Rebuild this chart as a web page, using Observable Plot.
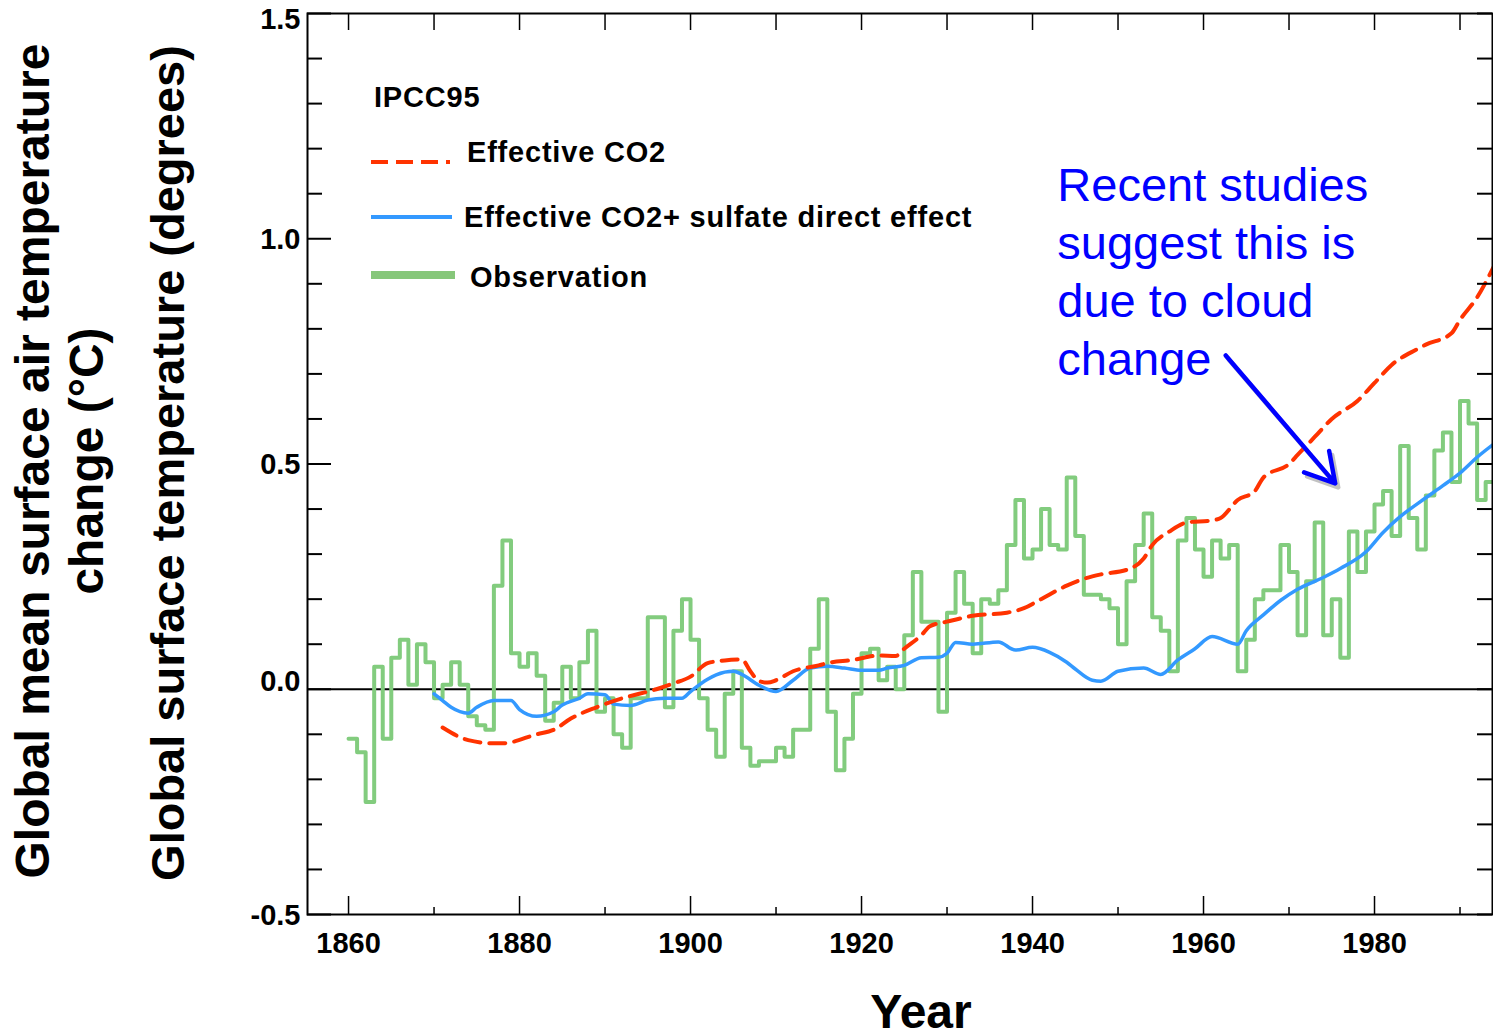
<!DOCTYPE html>
<html><head><meta charset="utf-8">
<script src="https://cdn.jsdelivr.net/npm/d3@7"></script>
<script src="https://cdn.jsdelivr.net/npm/@observablehq/plot@0.6"></script>
<style>
html,body{margin:0;padding:0;background:#fff;overflow:hidden;}
#chart{position:relative;width:1493px;height:1036px;}
</style></head><body><div id="chart"></div>
<script>
// ---------- data ----------
const obsStartYear = 1860;
const obsValues = [
 -0.11,-0.14,-0.25,0.05,-0.11,0.07,0.11,0.01,0.10,0.06,
 -0.02,0.01,0.06,0.01,-0.06,-0.08,-0.09,0.23,0.33,0.08,
 0.05,0.08,0.03,-0.07,-0.03,0.05,-0.02,0.06,0.13,-0.05,
 -0.02,-0.10,-0.13,-0.02,-0.02,0.16,0.16,-0.04,0.13,0.20,
 0.11,-0.02,-0.09,-0.15,-0.01,0.04,-0.13,-0.17,-0.16,-0.16,
 -0.13,-0.15,-0.09,-0.09,0.09,0.20,-0.05,-0.18,-0.11,-0.01,
 0.08,0.09,0.02,0.05,0.00,0.12,0.26,0.15,0.15,-0.05,
 0.17,0.26,0.19,0.08,0.20,0.19,0.22,0.32,0.42,0.29,
 0.31,0.40,0.32,0.31,0.47,0.34,0.21,0.21,0.20,0.18,
 0.10,0.24,0.32,0.39,0.16,0.13,0.04,0.33,0.38,0.31,
 0.25,0.33,0.29,0.32,0.04,0.11,0.20,0.22,0.22,0.32,
 0.26,0.12,0.24,0.37,0.12,0.20,0.07,0.35,0.26,0.35,
 0.41,0.44,0.34,0.54,0.38,0.31,0.43,0.53,0.57,0.46,
 0.64,0.59,0.42,0.46,0.51
];
const co2Years  = [1871,1874,1877,1878,1882,1884,1886,1889,1892,1894,1896,1898,1900,1902,1904,1906,1907,1908,1909,1910,1912,1915,1916,1919,1922,1924,1925,1927,1928,1930,1933,1937,1939,1941,1944,1946,1948,1951,1953,1954,1956,1958,1961,1962,1964,1966,1967,1970,1971,1973,1975,1978,1980,1982,1985,1986,1989,1990,1992,1994];
const co2Values = [-0.085,-0.113,-0.12,-0.12,-0.10,-0.09,-0.065,-0.04,-0.02,-0.01,0.00,0.013,0.028,0.058,0.064,0.066,0.04,0.018,0.015,0.02,0.04,0.053,0.058,0.065,0.075,0.074,0.09,0.12,0.14,0.15,0.163,0.17,0.18,0.20,0.23,0.245,0.255,0.265,0.29,0.32,0.35,0.37,0.375,0.38,0.42,0.44,0.47,0.50,0.52,0.56,0.60,0.64,0.68,0.72,0.755,0.765,0.79,0.82,0.87,0.94];
const sulYears  = [1870,1871,1872,1874,1875,1877,1879,1880,1882,1884,1885,1887,1888,1890,1891,1893,1895,1897,1899,1900,1902,1903,1905,1906,1908,1910,1912,1914,1916,1918,1920,1922,1923,1925,1927,1929,1930,1931,1933,1936,1938,1940,1942,1944,1945,1947,1948,1950,1953,1955,1957,1959,1961,1964,1965,1967,1969,1971,1974,1976,1979,1981,1983,1986,1988,1990,1992,1994];
const sulValues = [-0.01,-0.025,-0.04,-0.053,-0.04,-0.025,-0.025,-0.045,-0.06,-0.05,-0.035,-0.02,-0.01,-0.012,-0.033,-0.036,-0.024,-0.02,-0.02,-0.005,0.022,0.032,0.04,0.033,0.009,-0.005,0.02,0.047,0.051,0.047,0.042,0.042,0.047,0.053,0.07,0.071,0.08,0.104,0.10,0.105,0.087,0.093,0.082,0.06,0.045,0.02,0.018,0.04,0.047,0.033,0.065,0.09,0.117,0.10,0.13,0.165,0.197,0.222,0.248,0.268,0.305,0.348,0.383,0.425,0.452,0.48,0.515,0.545];

const xTickLabels = [1860,1880,1900,1920,1940,1960,1980];
const xTickMinor  = [1870,1890,1910,1930,1950,1970,1990];
const xTickTop    = [1860,1870,1880,1890,1900,1910,1920,1930,1940,1950,1960,1970,1980,1990];
const yTickLabels = [-0.5,0.0,0.5,1.0,1.5];
const yTickAll    = d3.range(-5,16).map(i => i/10);

const legendTitle = "IPCC95";
const seriesNames = ["Effective CO2","Effective CO2+ sulfate direct effect","Observation"];
const yTitle1 = "Global mean surface air temperature";
const yTitle2 = "change (°C)";
const yTitle3 = "Global surface temperature (degrees)";
const xTitle = "Year";
const noteText = "Recent studies\nsuggest this is\ndue to cloud\nchange";
const note = [{x: 1942.9, y: 1.176}];
const noteArrow = [{x1: 1962.6, y1: 0.741, x2: 1975.4, y2: 0.457}];

// ---------- tables ----------
const obs = obsValues.map((v,i)=>({year: obsStartYear+i, value: v}));
obs.push({year: obsStartYear+obsValues.length, value: obsValues[obsValues.length-1]});
const co2 = co2Years.map((y,i)=>({year:y, value:co2Values[i]}));
const sul = sulYears.map((y,i)=>({year:y, value:sulValues[i]}));

const W = 1493, H = 1036, ML = 307, MR = 1, MT = 13, MB = 122;
const XD = [1855.2, 1993.8], YD = [-0.5, 1.5];
const pxYear = (W-ML-MR)/(XD[1]-XD[0]);
const pxUnit = (H-MT-MB)/(YD[1]-YD[0]);
const FONT = "'Liberation Sans', Arial, Helvetica, sans-serif";
const minorY = yTickAll.filter(v => !yTickLabels.some(t => Math.abs(t-v)<1e-9));
const yLabTop = yTickLabels.filter(v => v === 1.5);
const yLabZero = yTickLabels.filter(v => v === 0);
const yLabRest = yTickLabels.filter(v => v !== 1.5 && v !== 0);
const yAxisOpts = {anchor: "left", tickSize: 0, tickPadding: 7, fontSize: 29, fontWeight: "bold",
  tickFormat: d => d.toFixed(1), fill: "black", style: "letter-spacing:0.5px"};

const plot = Plot.plot({
  width: W, height: H,
  marginLeft: ML, marginRight: MR, marginTop: MT, marginBottom: MB,
  x: {domain: XD, axis: null},
  y: {domain: YD, axis: null},
  style: {fontFamily: FONT, background: "white", overflow: "visible"},
  marks: [
    Plot.ruleY([0], {stroke: "black", strokeWidth: 2}),
    Plot.line(obs, {x: "year", y: "value", curve: "step-after", stroke: "#82cc7e", strokeWidth: 4, clip: true}),
    Plot.line(sul, {x: "year", y: "value", curve: "monotone-x", stroke: "#3399ff", strokeWidth: 3.5, clip: true}),
    Plot.line(co2, {x: "year", y: "value", curve: "monotone-x", stroke: "#ff3300", strokeWidth: 4, strokeDasharray: "16,9", clip: true}),
    // ticks (inward)
    Plot.ruleX(xTickLabels, {x: d=>d, y1: YD[0], y2: YD[0] + 18/pxUnit, stroke: "black", strokeWidth: 1.5}),
    Plot.ruleX(xTickMinor, {x: d=>d, y1: YD[0], y2: YD[0] + 7/pxUnit, stroke: "black", strokeWidth: 1.5}),
    Plot.ruleX(xTickTop, {x: d=>d, y1: YD[1], y2: YD[1] - 17/pxUnit, stroke: "black", strokeWidth: 1.5}),
    Plot.ruleY(yTickLabels, {y: d=>d, x1: XD[0], x2: XD[0] + 24/pxYear, stroke: "black", strokeWidth: 2}),
    Plot.ruleY(minorY, {y: d=>d, x1: XD[0], x2: XD[0] + 15/pxYear, stroke: "black", strokeWidth: 2}),
    Plot.ruleY(yTickAll, {y: d=>d, x1: XD[1] - 15/pxYear, x2: XD[1], stroke: "black", strokeWidth: 2}),
    Plot.frame({stroke: "black", strokeWidth: 2}),
    Plot.axisX(xTickLabels, {anchor: "bottom", tickSize: 0, tickPadding: 18, fontSize: 29, fontWeight: "bold",
      tickFormat: d => String(d), fill: "black", style: "letter-spacing:1px"}),
    Plot.axisY(yLabTop, {...yAxisOpts, dy: 6}),
    Plot.axisY(yLabZero, {...yAxisOpts, dy: -8}),
    Plot.axisY(yLabRest, {...yAxisOpts, dy: 1}),
    Plot.text([yTitle1], {frameAnchor: "left", dx: -274, dy: -3, rotate: -90, textAnchor: "middle", lineAnchor: "middle", fontSize: 48, fontWeight: "bold", fill: "black", text: d=>d}),
    Plot.text([yTitle2], {frameAnchor: "left", dx: -220, dy: -3, rotate: -90, textAnchor: "middle", lineAnchor: "middle", fontSize: 48, fontWeight: "bold", fill: "black", text: d=>d}),
    Plot.text([yTitle3], {frameAnchor: "left", dx: -139, dy: -1, rotate: -90, textAnchor: "middle", lineAnchor: "middle", fontSize: 47, fontWeight: "bold", fill: "black", text: d=>d}),
    Plot.text([xTitle], {frameAnchor: "bottom", dx: 21, dy: 98, textAnchor: "middle", lineAnchor: "middle", fontSize: 48, fontWeight: "bold", fill: "black", text: d=>d}),
    Plot.text(note, {x: "x", y: "y", text: () => noteText, textAnchor: "start", lineAnchor: "top", lineHeight: 1.234, fontSize: 47, fill: "#0000ff"}),
    Plot.arrow(noteArrow, {x1: "x1", y1: "y1", x2: "x2", y2: "y2", stroke: "#9a9a9a", strokeOpacity: 0.6, strokeWidth: 4.5, headLength: 11, headAngle: 60, dx: 3, dy: 4}),
    Plot.arrow(noteArrow, {x1: "x1", y1: "y1", x2: "x2", y2: "y2", stroke: "#0000ff", strokeWidth: 4.5, headLength: 11, headAngle: 60})
  ]
});
document.getElementById("chart").appendChild(plot);

// ---------- legend (inside plot area) ----------
const svg = d3.select(plot);
const lg = svg.append("g").attr("font-family", FONT).attr("font-weight", "bold").attr("font-size", 29)
  .attr("fill", "black").attr("text-anchor", "start").attr("letter-spacing", "0.8px");
lg.append("text").attr("x", 374).attr("y", 107).text(legendTitle);
lg.append("line").attr("x1", 371).attr("x2", 450).attr("y1", 162).attr("y2", 162)
  .attr("stroke", "#ff3300").attr("stroke-width", 4).attr("stroke-dasharray", "17,8");
lg.append("text").attr("x", 467).attr("y", 162).text(seriesNames[0]);
lg.append("line").attr("x1", 371).attr("x2", 452).attr("y1", 217).attr("y2", 217)
  .attr("stroke", "#3399ff").attr("stroke-width", 4);
lg.append("text").attr("x", 464).attr("y", 227).text(seriesNames[1]);
lg.append("line").attr("x1", 371).attr("x2", 455).attr("y1", 275).attr("y2", 275)
  .attr("stroke", "#86c77a").attr("stroke-width", 8);
lg.append("text").attr("x", 470).attr("y", 287).text(seriesNames[2]);
</script></body></html>
